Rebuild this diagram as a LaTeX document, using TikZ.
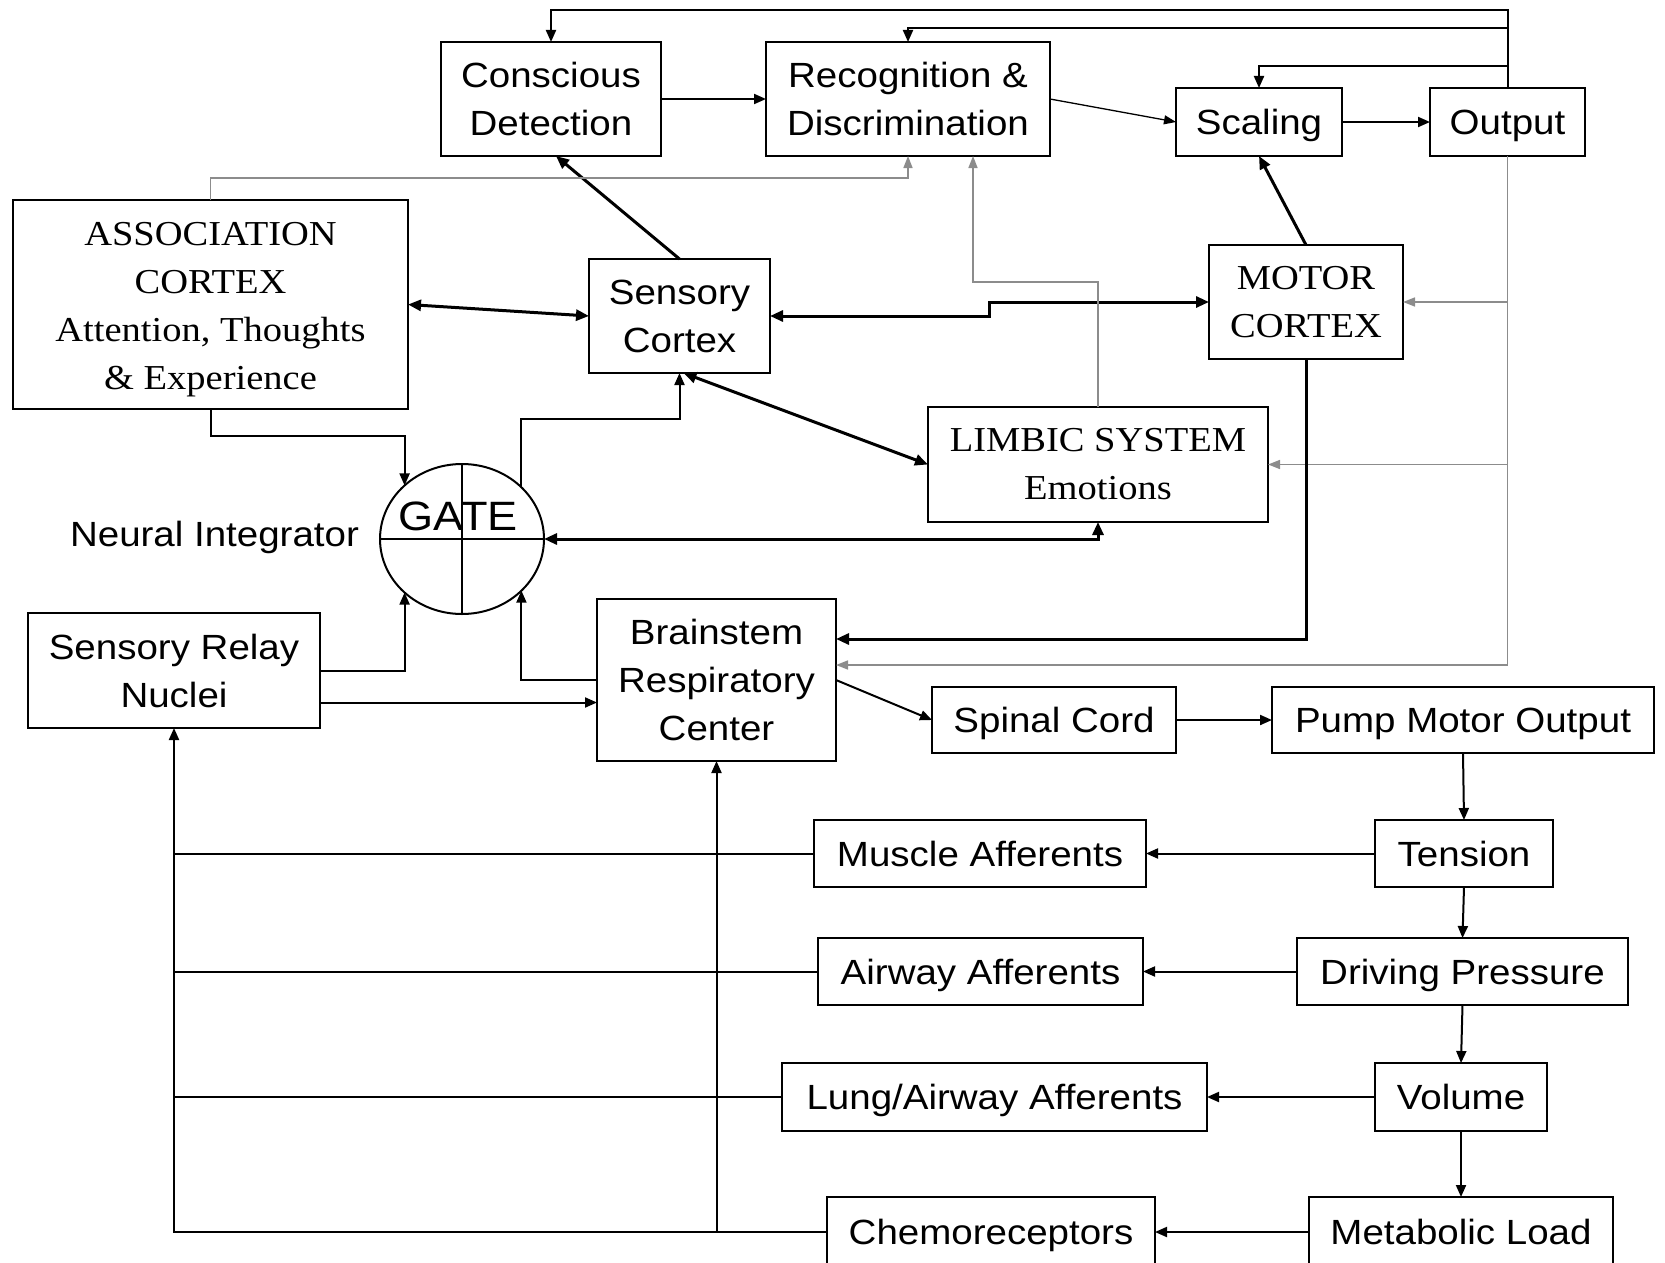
\documentclass[tikz,border=0pt]{standalone}
\usepackage{fontspec}
\setmainfont[FakeStretch=1.1]{Liberation Sans}
\newfontfamily\timesface[FakeStretch=1.1]{Liberation Serif}
\usetikzlibrary{arrows.meta,shapes.geometric}
\tikzset{
	box/.style={draw, line width=2pt, inner sep=0pt, outer sep=0pt, align=center, font=\fontsize{35}{48}\selectfont},
	tbox/.style={box, font=\timesface\fontsize{35}{48}\selectfont},
	oneline/.style={box, text height=25pt, text depth=0pt},
	gatering/.style={ellipse, draw, line width=2pt, minimum width=164pt, minimum height=150pt, inner sep=0pt, outer sep=0pt},
	plain/.style={line width=2pt},
	arr/.style={line width=2pt, -{Triangle[length=12pt,width=10pt]}},
	bigarr/.style={line width=3pt, -{Triangle[length=13pt,width=11pt]}},
	bigdbl/.style={line width=3pt, {Triangle[length=13pt,width=11pt]}-{Triangle[length=13pt,width=11pt]}},
	tinarr/.style={line width=1.3pt, -{Triangle[length=12pt,width=9pt]}},
	garr/.style={line width=1.5pt, color=black!45, -{Triangle[length=12pt,width=9pt]}}
}

\begin{document}
\begin{tikzpicture}[x=1pt, y=1pt]
			%%%%% START %%%%%
			\useasboundingbox (0,0) rectangle (1665,-1263);
			
			\node[box, minimum width=220pt, minimum height=114pt] (cons) at (551,-99) {Conscious\\Detection};
			\node[box, minimum width=284pt, minimum height=114pt] (recog) at (908,-99) {Recognition \&\\Discrimination};
			\node[oneline, minimum width=166pt, minimum height=68pt] (scal) at (1259,-122) {Scaling};
			\node[oneline, minimum width=155pt, minimum height=68pt] (outp) at (1507.5,-122) {Output};
			
			\node[tbox, minimum width=395pt, minimum height=209pt] (assoc) at (210.5,-304.5) {\rule{0pt}{34pt}ASSOCIATION\\CORTEX\\Attention, Thoughts\\\& Experience};
			\node[box, minimum width=181pt, minimum height=114pt] (sens) at (679.5,-316) {Sensory\\Cortex};
			\node[tbox, minimum width=194pt, minimum height=114pt] (motor) at (1306,-302) {MOTOR\\CORTEX};
			\node[tbox, minimum width=340pt, minimum height=115pt] (limbic) at (1098,-464.5) {LIMBIC SYSTEM\\Emotions};
			
			\node[gatering] (gate) at (462,-539) {};
			\draw[plain] (gate.north) -- (gate.south);
			\draw[plain] (gate.west) -- (gate.east);
			\node[anchor=base, font=\fontsize{41}{48}\selectfont] (gatelbl) at (458,-530) {GATE};
			\node[anchor=base, font=\fontsize{35}{48}\selectfont] (neural) at (214.5,-546) {Neural Integrator};
			
			\node[box, minimum width=292pt, minimum height=115pt] (relay) at (174,-670.5) {Sensory Relay\\Nuclei};
			\node[box, minimum width=239pt, minimum height=162pt] (brain) at (716.5,-680) {Brainstem\\Respiratory\\Center};
			\node[oneline, minimum width=244pt, minimum height=66pt] (spinal) at (1054,-720) {Spinal Cord};
			\node[oneline, minimum width=382pt, minimum height=66pt] (pump) at (1463,-720) {Pump Motor Output};
			
			\node[oneline, minimum width=178pt, minimum height=67pt] (tension) at (1464,-853.5) {Tension};
			\node[oneline, minimum width=332pt, minimum height=67pt] (muscle) at (980,-853.5) {Muscle Afferents};
			\node[oneline, minimum width=331pt, minimum height=67pt] (driving) at (1462.5,-971.5) {Driving Pressure};
			\node[oneline, minimum width=325pt, minimum height=67pt] (airway) at (980.5,-971.5) {Airway Afferents};
			\node[oneline, minimum width=172pt, minimum height=68pt] (volume) at (1461,-1097) {Volume};
			\node[oneline, minimum width=425pt, minimum height=68pt] (lung) at (994.5,-1097) {Lung/Airway Afferents};
			\node[oneline, minimum width=304pt, minimum height=70pt] (metab) at (1461,-1232) {Metabolic Load};
			\node[oneline, minimum width=328pt, minimum height=70pt] (chemo) at (991,-1232) {Chemoreceptors};
			
			% top row and feedback from output
			\draw[arr] (cons.east) -- (recog.west);
			\draw[tinarr] (recog.east) -- (scal.west);
			\draw[arr] (scal.east) -- (outp.west);
			\draw[arr] (outp.north) -- ++(0,78) -| (cons.north);
			\draw[arr] (outp.north) -- ++(0,60.4) -| (recog.north);
			\draw[arr] (outp.north) -- ++(0,22) -| (scal.north);
			\draw[garr] (outp.south) |- ([yshift=15pt]brain.east);
			\draw[garr] (outp.south |- motor.east) -- (motor.east);
			\draw[garr] (outp.south |- limbic.east) -- (limbic.east);
			
			% cortex
			\draw[bigarr] (sens.north) -- ([xshift=5pt]cons.south);
			\draw[bigarr] (motor.north) -- (scal.south);
			\draw[bigdbl] (assoc.east) -- (sens.west);
			\draw[bigdbl] (sens.east) -- ++(219,0) |- (motor.west);
			\draw[bigdbl] ([xshift=4pt]sens.south) -- (limbic.west);
			\draw[garr] (assoc.north) -- ++(0,22) -| (recog.south);
			\draw[garr] (limbic.north) -- ++(0,125) -| ([xshift=65pt]recog.south);
			\draw[bigarr] (motor.south) |- ([yshift=41pt]brain.east);
			
			% gate
			\draw[arr] (assoc.south) -- ++(0,-27) -| (gate.137);
			\draw[arr] (gate.41) -- ++(0,68) -| (sens.south);
			\draw[bigdbl] (gate.east) -| (limbic.south);
			\draw[arr] (relay.east) -| (gate.223);
			\draw[arr] (brain.west) -| (gate.319);
			\draw[arr] ([yshift=-32pt]relay.east) -- ([yshift=-32pt]relay.east -| brain.west);
			
			% pump chain
			\draw[arr] (brain.east) -- (spinal.west);
			\draw[arr] (spinal.east) -- (pump.west);
			\draw[arr] (pump.south) -- (tension.north);
			\draw[arr] (tension.south) -- (driving.north);
			\draw[arr] (driving.south) -- (volume.north);
			\draw[arr] (volume.south) -- (metab.north);
			\draw[arr] (tension.west) -- (muscle.east);
			\draw[arr] (driving.west) -- (airway.east);
			\draw[arr] (volume.west) -- (lung.east);
			\draw[arr] (metab.west) -- (chemo.east);
			
			% afferent return
			\draw[plain] (muscle.west) -- (muscle.west -| relay.south);
			\draw[plain] (airway.west) -- (airway.west -| relay.south);
			\draw[plain] (lung.west) -- (lung.west -| relay.south);
			\draw[arr] (chemo.west) -| (relay.south);
			\draw[arr] (chemo.west -| brain.south) -- (brain.south);
			
			%%%%% END %%%%%
\end{tikzpicture}
\end{document}
